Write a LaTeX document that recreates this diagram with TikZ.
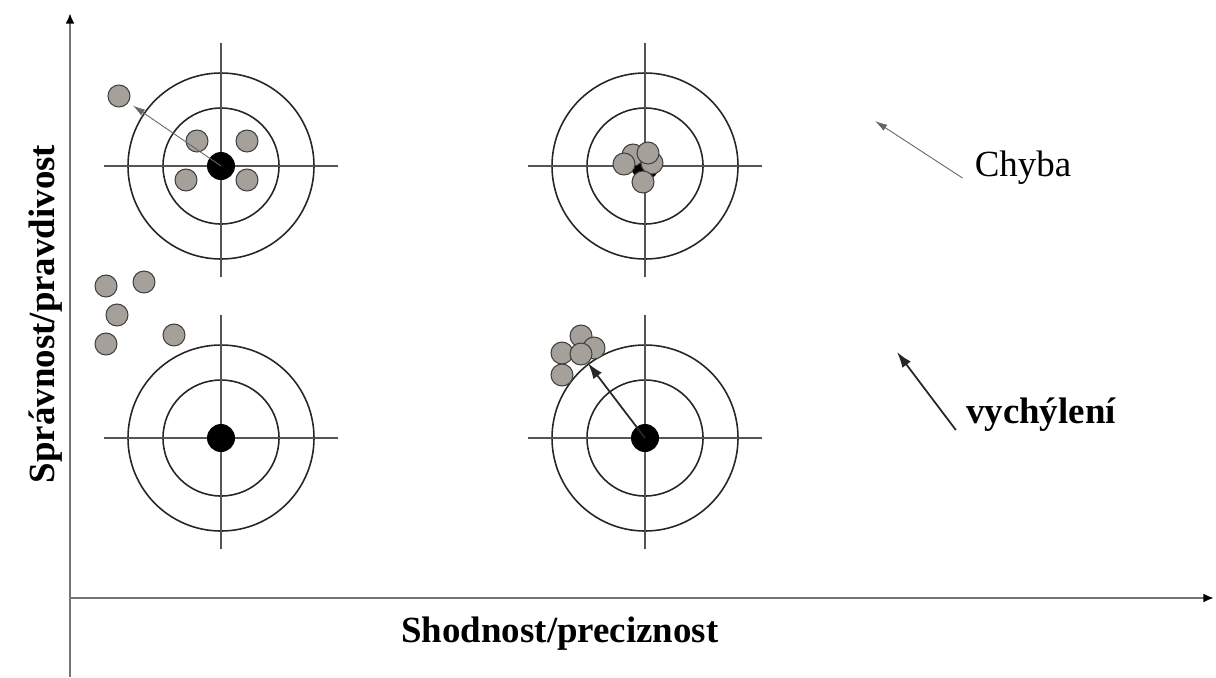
\documentclass[tikz,border=0pt]{standalone}
\usepackage{fontspec}
\setmainfont{Liberation Serif}
\usetikzlibrary{arrows.meta,calc,positioning}
\definecolor{hitgray}{RGB}{166,160,154}
\definecolor{axisgray}{RGB}{115,115,115}
\definecolor{crossgray}{RGB}{85,85,85}

\begin{document}
\begin{tikzpicture}[
    x=0.02cm, y=-0.02cm,
    axis/.style={draw=axisgray, line width=1.2pt, -{Latex[length=6pt,width=5pt,black]}},
    ring/.style={draw=black!85, line width=0.9pt},
    cross/.style={draw=crossgray, line width=0.9pt},
    hit/.style={circle, draw=black!75, line width=0.6pt, fill=hitgray, minimum size=0.44cm, inner sep=0pt},
    bull/.style={circle, fill=black, minimum size=0.56cm, inner sep=0pt},
    note/.style={font=\fontsize{21}{25}\selectfont, inner sep=0pt},
    boldnote/.style={note, font=\fontsize{21}{25}\selectfont\bfseries},
    pointer/.style={-{Latex[length=7pt,width=4pt]}, line width=0.5pt, draw=black!60},
    bigpointer/.style={-{Latex[length=9pt,width=6pt]}, line width=1pt, draw=black!85}
]
    \useasboundingbox (0,0) rectangle (1216,677);

    % Axes
    \coordinate (ybottom) at (70,677);
    \coordinate (ytip) at (70,13);
    \coordinate (origin) at (70,598);
    \coordinate (xtip) at (1214,598);
    \draw[axis] (ybottom) -- (ytip);
    \draw[axis] (origin) -- (xtip);
    \node[boldnote, anchor=base] (xlabel) at (560,642) {Shodnost/preciznost};
    \node[boldnote, rotate=90] (ylabel) at (46,314) {Správnost/pravdivost};

    % Targets
    \coordinate (tl) at (221,166);
    \coordinate (tr) at (645,166);
    \coordinate (bl) at (221,438);
    \coordinate (br) at (645,438);
    \foreach \t in {tl,tr,bl,br}{
        \draw[ring] (\t) circle[radius=93];
        \draw[ring] (\t) circle[radius=58];
        \draw[cross] ($(\t)+(-117,0)$) -- ($(\t)+(117,0)$);
        \draw[cross] ($(\t)+(0,-123)$) -- ($(\t)+(0,111)$);
        \node[bull] (bull\t) at (\t) {};
    }

    % Hits
    \foreach \x/\y [count=\i] in {197/141, 247/141, 186/180, 247/180, 119/96}
        \node[hit] (tl\i) at (\x,\y) {};
    \foreach \x/\y [count=\i] in {633/155, 652/163, 648/153, 624/164, 643/182}
        \node[hit] (tr\i) at (\x,\y) {};
    \foreach \x/\y [count=\i] in {106/286, 144/282, 117/315, 106/344, 174/335}
        \node[hit] (bl\i) at (\x,\y) {};
    \foreach \x/\y [count=\i] in {581/336, 594/348, 562/353, 562/375, 581/354}
        \node[hit] (br\i) at (\x,\y) {};

    \draw[pointer, shorten >=3pt] (bulltl.center) -- (tl5);
    \draw[bigpointer] (bullbr.center) -- (br5);

    % Legend
    \node[note, anchor=base] (chyba) at (1023,176) {Chyba};
    \coordinate (chybatip) at (875,121);
    \draw[pointer] ($(chyba.base west)+(-12,2)$) -- (chybatip);

    \node[boldnote, anchor=base] (vych) at (1041,423) {vychýlení};
    \coordinate (vychtip) at (897,352);
    \draw[bigpointer] ($(vych.base west)+(-10,7)$) -- (vychtip);
\end{tikzpicture}
\end{document}
